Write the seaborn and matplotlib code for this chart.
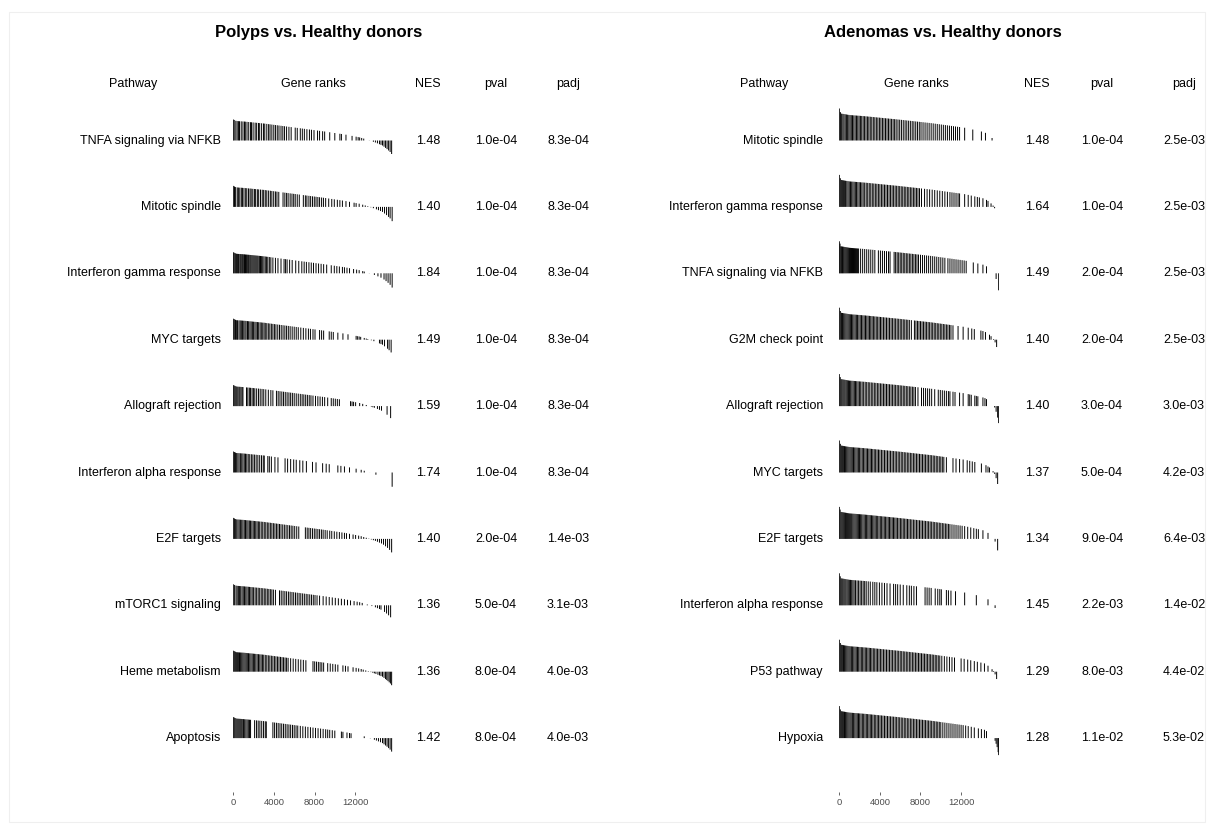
import numpy as np
import matplotlib
matplotlib.use("Agg")
import matplotlib.pyplot as plt
import seaborn as sns

# ---------------------------------------------------------------
# GSEA table: Polyps / Adenomas vs. Healthy donors (hallmark sets)
# ---------------------------------------------------------------

N_GENES = 15750

# ranked statistic curve (rank -> stat)
polyp_curve_rank = [0, 300, 1000, 3000, 6000, 9000, 11000, 12500, 13300, 14000, 14700, 15200, 15500, 15700]
polyp_curve_stat = [21, 19.5, 19, 17, 13, 9, 6, 3, 0.5, -2, -5, -9, -12, -15]

adenoma_curve_rank = [0, 150, 1000, 2500, 5800, 9100, 12400, 14300, 14800, 15100, 15250, 15400, 15550, 15650, 15750]
adenoma_curve_stat = [32, 27, 25.5, 24.3, 21, 17.3, 12.7, 8.3, 5, 2, 0, -4, -9, -14, -20]

# --- Polyps vs. Healthy donors ---
polyp_pathways = ["TNFA signaling via NFKB", "Mitotic spindle", "Interferon gamma response",
                  "MYC targets", "Allograft rejection", "Interferon alpha response",
                  "E2F targets", "mTORC1 signaling", "Heme metabolism", "Apoptosis"]
polyp_nes = [1.48, 1.40, 1.84, 1.49, 1.59, 1.74, 1.40, 1.36, 1.36, 1.42]
polyp_pval = [1.0e-04, 1.0e-04, 1.0e-04, 1.0e-04, 1.0e-04, 1.0e-04, 2.0e-04, 5.0e-04, 8.0e-04, 8.0e-04]
polyp_padj = [8.3e-04, 8.3e-04, 8.3e-04, 8.3e-04, 8.3e-04, 8.3e-04, 1.4e-03, 3.1e-03, 4.0e-03, 4.0e-03]

p_tnfa = [0, 90, 250, 380, 520, 610, 780, 950, 1100, 1180, 1350, 1520, 1700, 1790, 1950, 2150, 2300, 2480, 2600,
          2790, 2980, 3100, 3300, 3480, 3620, 3800, 3990, 4150, 4330, 4500, 4700, 4880, 5050, 5250, 5480, 5700, 6100,
          6300, 6600, 6800, 7000, 7250, 7500, 7700, 7950, 8300, 8500, 8800, 9000, 9500, 10000, 10500, 10650, 11100,
          11700, 12100, 12300, 12450, 12650, 12850, 13400, 13800, 14000, 14200, 14400, 14550, 14700, 14850, 15000,
          15150, 15300, 15450, 15600]
p_mitotic = [0, 120, 230, 390, 500, 640, 790, 900, 1050, 1220, 1330, 1500, 1650, 1760, 1920, 2080, 2200, 2370, 2500,
             2680, 2850, 2990, 3150, 3300, 3480, 3650, 3800, 3980, 4150, 4300, 4480, 4900, 5080, 5250, 5400, 5600,
             5780, 5950, 6100, 6300, 6500, 6900, 7100, 7250, 7450, 7620, 7800, 7980, 8150, 8330, 8500, 8700, 8880,
             9100, 9400, 9700, 9950, 10250, 10500, 10750, 11100, 11450, 11900, 12100, 12400, 12750, 13000, 13250,
             13550, 13800, 14100, 14300, 14500, 14700, 14900, 15100, 15300, 15450, 15650]
p_ifng = [0, 70, 160, 240, 330, 400, 500, 570, 680, 760, 850, 930, 1030, 1100, 1200, 1290, 1380, 1480, 1560, 1660,
          1750, 1850, 1950, 2050, 2150, 2250, 2350, 2450, 2570, 2680, 2790, 2900, 3020, 3150, 3280, 3400, 3550, 3700,
          3900, 4150, 4400, 4700, 5000, 5150, 5300, 5550, 5800, 6150, 6450, 6750, 6980, 7200, 7450, 7680, 7900, 8150,
          8400, 8650, 8900, 9200, 9650, 9950, 10200, 10450, 10750, 10950, 11200, 11450, 11850, 12150, 12400, 12750,
          12900, 13400, 13900, 14250, 14550, 14850, 15050, 15250, 15450, 15650]
p_myc = [0, 100, 220, 330, 420, 560, 680, 790, 900, 1030, 1150, 1260, 1400, 1510, 1640, 1760, 1880, 2000, 2130, 2250,
         2380, 2500, 2640, 2760, 2900, 3030, 3150, 3300, 3450, 3600, 3750, 3900, 4050, 4200, 4380, 4550, 4720, 4900,
         5080, 5250, 5420, 5600, 5800, 6000, 6200, 6400, 6650, 6900, 7150, 7400, 7600, 7850, 8050, 8500, 8700, 8900,
         9450, 9650, 9850, 10300, 10800, 11300, 12100, 12250, 12400, 12550, 12900, 13100, 13250, 13600, 13850, 14400,
         14550, 14700, 14900, 15200, 15350, 15550]
p_allograft = [0, 80, 170, 260, 350, 450, 560, 650, 760, 870, 950, 1300, 1430, 1580, 1700, 1850, 1980, 2120, 2300,
               2480, 2650, 2830, 3000, 3200, 3450, 3700, 3900, 4250, 4420, 4600, 4780, 4950, 5120, 5300, 5480, 5650,
               5820, 6000, 6200, 6400, 6600, 6780, 6950, 7130, 7300, 7480, 7650, 7850, 8100, 8330, 8550, 8780, 9000,
               9300, 9650, 9850, 10050, 10250, 10450, 11550, 11700, 11850, 12050, 12450, 12750, 13100, 13600, 13750,
               13900, 14200, 14400, 14600, 15150, 15500]
p_ifna = [0, 110, 210, 330, 450, 570, 700, 830, 950, 1080, 1200, 1330, 1470, 1620, 1780, 1930, 2080, 2250, 2420, 2600,
          2780, 2950, 3050, 3400, 3550, 3750, 4100, 4400, 5100, 5350, 5650, 5950, 6200, 6550, 6850, 7200, 7800, 8150,
          8800, 9150, 9450, 10300, 10600, 10950, 11450, 12100, 12600, 12900, 13450, 14050, 15650]
p_e2f = [0, 110, 230, 340, 460, 580, 700, 830, 950, 1080, 1200, 1330, 1450, 1580, 1700, 1830, 1960, 2080, 2210, 2340,
         2470, 2600, 2750, 2900, 3050, 3200, 3350, 3500, 3650, 3800, 3950, 4100, 4250, 4400, 4550, 4700, 4870, 5030,
         5200, 5370, 5540, 5700, 5870, 6050, 6250, 6450, 7100, 7280, 7450, 7620, 7800, 7980, 8150, 8330, 8500, 8680,
         8850, 9050, 9250, 9500, 9700, 9950, 10200, 10450, 10700, 10950, 11150, 11450, 11800, 12050, 12350, 12600,
         12850, 13100, 13350, 13600, 13800, 14000, 14200, 14400, 14600, 14800, 15000, 15200, 15400, 15600]
p_mtorc1 = [0, 130, 270, 380, 500, 620, 730, 860, 980, 1100, 1230, 1350, 1480, 1600, 1730, 1860, 2000, 2150, 2300,
            2450, 2600, 2750, 2900, 3050, 3200, 3350, 3500, 3650, 3800, 3950, 4150, 4550, 4720, 4900, 5080, 5250, 5430,
            5600, 5780, 5950, 6130, 6300, 6480, 6650, 6830, 7000, 7180, 7350, 7530, 7700, 7880, 8050, 8250, 8500, 8850,
            9150, 9450, 9750, 10050, 10350, 10650, 10950, 11250, 11550, 11900, 12200, 12450, 12700, 13200, 13650,
            14000, 14200, 14400, 14550, 14900, 15100, 15300, 15500]
p_heme = [0, 100, 200, 300, 400, 500, 610, 720, 830, 940, 1050, 1160, 1270, 1380, 1500, 1620, 1740, 1860, 1980, 2100,
          2220, 2350, 2480, 2610, 2740, 2870, 3000, 3150, 3300, 3450, 3600, 3750, 3900, 4050, 4200, 4350, 4500, 4650,
          4800, 4950, 5100, 5250, 5400, 5650, 5900, 6150, 6400, 6650, 6900, 7150, 7850, 8020, 8200, 8380, 8550, 8720,
          8900, 9300, 9550, 9800, 10050, 10300, 10800, 11050, 11300, 11800, 12100, 12350, 12600, 12800, 13050, 13300,
          13550, 13750, 13900, 14050, 14250, 14400, 14550, 14700, 14850, 15000, 15120, 15240, 15360, 15480, 15600]
p_apoptosis = [0, 90, 180, 280, 380, 480, 580, 680, 780, 880, 1000, 1120, 1240, 1360, 1480, 1600, 1700, 2100, 2280,
               2450, 2620, 2800, 2980, 3150, 3250, 3900, 4070, 4250, 4420, 4600, 4770, 4950, 5120, 5300, 5480, 5650,
               5830, 6000, 6180, 6350, 6600, 6850, 7100, 7350, 7600, 7850, 8100, 8350, 8600, 8850, 9100, 9300, 9500,
               9750, 10000, 10650, 10800, 11200, 11450, 11600, 12900, 13500, 13900, 14100, 14300, 14500, 14700, 14850,
               15000, 15150, 15300, 15450, 15600]
polyp_ranks = [p_tnfa, p_mitotic, p_ifng, p_myc, p_allograft, p_ifna, p_e2f, p_mtorc1, p_heme, p_apoptosis]

# --- Adenomas vs. Healthy donors ---
adenoma_pathways = ["Mitotic spindle", "Interferon gamma response", "TNFA signaling via NFKB",
                    "G2M check point", "Allograft rejection", "MYC targets", "E2F targets",
                    "Interferon alpha response", "P53 pathway", "Hypoxia"]
adenoma_nes = [1.48, 1.64, 1.49, 1.40, 1.40, 1.37, 1.34, 1.45, 1.29, 1.28]
adenoma_pval = [1.0e-04, 1.0e-04, 2.0e-04, 2.0e-04, 3.0e-04, 5.0e-04, 9.0e-04, 2.2e-03, 8.0e-03, 1.1e-02]
adenoma_padj = [2.5e-03, 2.5e-03, 2.5e-03, 2.5e-03, 3.0e-03, 4.2e-03, 6.4e-03, 1.4e-02, 4.4e-02, 5.3e-02]

a_mitotic = [0, 110, 230, 350, 460, 580, 700, 820, 940, 1060, 1180, 1300, 1430, 1560, 1690, 1820, 1950, 2080, 2210,
             2350, 2490, 2630, 2770, 2910, 3050, 3200, 3350, 3500, 3650, 3800, 3950, 4100, 4250, 4400, 4550, 4700,
             4850, 5000, 5150, 5300, 5450, 5600, 5780, 5950, 6120, 6300, 6480, 6650, 6830, 7000, 7180, 7350, 7530,
             7700, 7880, 8050, 8250, 8450, 8650, 8850, 9050, 9250, 9450, 9650, 9850, 10050, 10250, 10450, 10650,
             10850, 11050, 11250, 11450, 11650, 11850, 12350, 13150, 14000, 14400, 15050]
a_ifng = [0, 100, 200, 300, 400, 500, 620, 740, 860, 980, 1100, 1220, 1340, 1460, 1580, 1700, 1830, 1960, 2090, 2220,
          2350, 2500, 2650, 2800, 2950, 3100, 3250, 3400, 3550, 3700, 3850, 4000, 4150, 4300, 4450, 4600, 4750, 4900,
          5050, 5200, 5350, 5500, 5650, 5800, 5950, 6100, 6250, 6400, 6550, 6700, 6850, 7000, 7150, 7300, 7450, 7600,
          7750, 7900, 8100, 8400, 8650, 8900, 9150, 9400, 9650, 9900, 10150, 10400, 10650, 10900, 11100, 11300,
          11500, 11700, 11850, 12350, 12700, 13000, 13350, 13600, 13800, 14150, 14500, 14650, 14950, 15150, 15300]
a_tnfa = [0, 70, 150, 230, 310, 390, 470, 560, 650, 740, 830, 920, 1010, 1100, 1200, 1300, 1400, 1500, 1600, 1700,
          1800, 1900, 2100, 2300, 2500, 2700, 2900, 3100, 3300, 3500, 3850, 4050, 4250, 4450, 4650, 4850, 5000, 5400,
          5550, 5700, 5850, 6000, 6150, 6300, 6450, 6600, 6750, 6900, 7050, 7200, 7350, 7500, 7650, 7800, 8000, 8200,
          8400, 8600, 8800, 9000, 9200, 9400, 9600, 9800, 10000, 10200, 10400, 10700, 10900, 11100, 11300, 11500,
          11700, 11900, 12100, 12300, 12500, 13200, 13650, 14150, 14500, 15250, 15450, 15700]
a_g2m = [0, 100, 210, 320, 430, 540, 650, 760, 870, 980, 1090, 1200, 1320, 1440, 1560, 1680, 1800, 1930, 2060, 2190,
         2320, 2450, 2580, 2710, 2840, 2970, 3100, 3230, 3360, 3500, 3640, 3780, 3920, 4060, 4200, 4350, 4500, 4650,
         4800, 4950, 5100, 5250, 5400, 5550, 5700, 5850, 6000, 6150, 6300, 6450, 6600, 6750, 6900, 7100, 7400, 7550,
         7700, 7850, 8000, 8150, 8300, 8450, 8600, 8750, 8900, 9050, 9200, 9350, 9500, 9650, 9800, 9950, 10100,
         10250, 10400, 10550, 10700, 10850, 11000, 11200, 11700, 12200, 12700, 13050, 13300, 13950, 14150, 14400,
         14800, 14950, 15200, 15350, 15500]
a_allograft = [0, 90, 180, 270, 370, 470, 570, 680, 790, 900, 1010, 1120, 1240, 1360, 1480, 1600, 1720, 1850, 1980,
               2110, 2250, 2400, 2550, 2700, 2850, 3000, 3150, 3300, 3450, 3600, 3750, 3900, 4050, 4200, 4350, 4500,
               4650, 4800, 4950, 5100, 5250, 5400, 5550, 5700, 5850, 6000, 6150, 6300, 6450, 6600, 6750, 6900, 7050,
               7200, 7350, 7500, 7750, 8100, 8300, 8500, 8700, 8900, 9100, 9400, 9750, 9950, 10150, 10350, 10550,
               10750, 10900, 11200, 11400, 11850, 12200, 12700, 12850, 13000, 13350, 13500, 13650, 14150, 14350, 14500,
               15300, 15450, 15600, 15700]
a_myc = [0, 100, 200, 300, 400, 510, 620, 730, 840, 950, 1060, 1170, 1280, 1400, 1520, 1640, 1760, 1880, 2000, 2130,
         2260, 2390, 2520, 2650, 2780, 2910, 3040, 3170, 3300, 3440, 3580, 3720, 3860, 4000, 4150, 4300, 4450, 4600,
         4750, 4900, 5050, 5200, 5350, 5500, 5650, 5800, 5950, 6100, 6250, 6400, 6550, 6700, 6850, 7000, 7150, 7300,
         7450, 7600, 7750, 7900, 8050, 8200, 8350, 8500, 8650, 8800, 8950, 9100, 9250, 9400, 9550, 9700, 9850,
         10000, 10150, 10300, 10550, 11200, 11500, 11850, 12200, 12600, 12850, 13100, 13350, 14000, 14450, 14650,
         14800, 15150, 15300, 15450, 15600]
a_e2f = [0, 80, 170, 260, 350, 440, 530, 620, 720, 820, 920, 1020, 1120, 1220, 1330, 1440, 1550, 1660, 1770, 1880,
         1990, 2100, 2210, 2330, 2450, 2570, 2690, 2810, 2930, 3050, 3170, 3290, 3410, 3530, 3650, 3780, 3910, 4040,
         4170, 4300, 4430, 4560, 4690, 4820, 4950, 5080, 5210, 5340, 5470, 5600, 5740, 5880, 6020, 6160, 6300, 6440,
         6580, 6720, 6860, 7000, 7150, 7300, 7450, 7600, 7750, 7900, 8050, 8200, 8350, 8500, 8650, 8800, 8950, 9100,
         9250, 9400, 9550, 9700, 9850, 10000, 10150, 10300, 10450, 10600, 10750, 10900, 11100, 11300, 11500, 11700,
         11900, 12100, 12350, 12650, 12950, 13250, 13500, 13700, 14150, 14650, 15350, 15600]
a_ifna = [0, 90, 180, 270, 360, 460, 560, 660, 770, 880, 990, 1100, 1220, 1340, 1460, 1600, 1750, 1900, 2050, 2200,
          2350, 2500, 2650, 2850, 3050, 3300, 3500, 3700, 3950, 4200, 4450, 4700, 5000, 5350, 5550, 5750, 6000, 6300,
          6650, 6900, 7100, 7350, 7600, 8450, 8650, 8850, 9050, 9450, 9700, 9900, 10050, 10550, 10750, 11000, 11450,
          12350, 13500, 14650, 15350]
a_p53 = [0, 100, 200, 300, 410, 520, 630, 740, 850, 960, 1070, 1190, 1310, 1430, 1550, 1670, 1790, 1910, 2040, 2170,
         2300, 2430, 2560, 2690, 2820, 2950, 3080, 3210, 3350, 3490, 3630, 3770, 3910, 4050, 4200, 4350, 4500, 4650,
         4800, 4950, 5100, 5250, 5400, 5550, 5700, 5850, 6000, 6150, 6300, 6450, 6600, 6750, 6900, 7050, 7200, 7350,
         7500, 7650, 7800, 7950, 8100, 8250, 8400, 8550, 8700, 8850, 9000, 9150, 9300, 9450, 9600, 9750, 9900,
         10100, 10350, 10600, 10850, 11100, 11350, 12000, 12300, 12650, 12950, 13300, 13600, 13950, 14300, 14650,
         15050, 15200, 15350, 15500]
a_hypoxia = [0, 100, 200, 300, 400, 510, 620, 730, 840, 950, 1060, 1170, 1290, 1410, 1530, 1650, 1770, 1890, 2010,
             2140, 2270, 2400, 2530, 2660, 2790, 2920, 3050, 3180, 3310, 3450, 3590, 3730, 3870, 4010, 4150, 4300,
             4450, 4600, 4750, 4900, 5050, 5200, 5350, 5500, 5650, 5800, 5950, 6100, 6250, 6400, 6550, 6700, 6850,
             7000, 7150, 7300, 7450, 7600, 7750, 7900, 8050, 8200, 8350, 8500, 8650, 8800, 8950, 9100, 9250, 9400,
             9550, 9700, 9850, 10000, 10200, 10400, 10600, 10800, 11000, 11200, 11400, 11600, 11800, 12000, 12200,
             12450, 12700, 13000, 13300, 13700, 14000, 14300, 14500, 15350, 15450, 15550, 15650, 15700]
adenoma_ranks = [a_mitotic, a_ifng, a_tnfa, a_g2m, a_allograft, a_myc, a_e2f, a_ifna, a_p53, a_hypoxia]

gene_ticks = [0, 4000, 8000, 12000]

# ---------------------------------------------------------------
sns.set_theme(style="white")
plt.rcParams['font.family'] = ['Liberation Sans', 'DejaVu Sans']
plt.rcParams['text.color'] = 'black'

W, H = 1214, 830
fig = plt.figure(figsize=(W / 100, H / 100), dpi=100)


def fx(px):
    return px / W


def fy(py):
    return 1 - py / H


# light frame around the whole figure
fig.patches.append(plt.Rectangle((fx(9), fy(822)), fx(1196), (822 - 12) / H, transform=fig.transFigure,
                                 fill=False, edgecolor="#efefef", linewidth=0.8))

panels = [
    dict(title="Polyps vs. Healthy donors", title_x=319, name_x=221, head_path_x=133, head_gene_x=313,
         nes_x=428, pval_x=496, padj_x=568, rank0_x=233.3,
         names=polyp_pathways, nes=polyp_nes, pval=polyp_pval, padj=polyp_padj, ranks=polyp_ranks,
         curve=(polyp_curve_rank, polyp_curve_stat)),
    dict(title="Adenomas vs. Healthy donors", title_x=943, name_x=823, head_path_x=764, head_gene_x=916,
         nes_x=1037, pval_x=1102, padj_x=1184, rank0_x=839.3,
         names=adenoma_pathways, nes=adenoma_nes, pval=adenoma_pval, padj=adenoma_padj, ranks=adenoma_ranks,
         curve=(adenoma_curve_rank, adenoma_curve_stat)),
]

px_per_rank = 10.15 / 1000
row0_y, row_step = 140.5, 66.4
bar_half = 35  # px above / below the baseline of each barcode axes
fs = 9

for p in panels:
    fig.text(fx(p["title_x"]), fy(33), p["title"], ha="center", va="center", fontsize=12, fontweight="bold")
    for label, x in [("Pathway", p["head_path_x"]), ("Gene ranks", p["head_gene_x"]), ("NES", p["nes_x"]),
                     ("pval", p["pval_x"]), ("padj", p["padj_x"])]:
        fig.text(fx(x), fy(84), label, ha="center", va="center", fontsize=fs)

    width = N_GENES * px_per_rank
    curve_rank, curve_stat = p["curve"]
    for i, name in enumerate(p["names"]):
        y = row0_y + i * row_step
        fig.text(fx(p["name_x"]), fy(y), name, ha="right", va="center", fontsize=fs)
        fig.text(fx(p["nes_x"]), fy(y), f"{p['nes'][i]:.2f}", ha="center", va="center", fontsize=fs)
        fig.text(fx(p["pval_x"]), fy(y), f"{p['pval'][i]:.1e}", ha="center", va="center", fontsize=fs)
        fig.text(fx(p["padj_x"]), fy(y), f"{p['padj'][i]:.1e}", ha="center", va="center", fontsize=fs)

        ax = fig.add_axes([fx(p["rank0_x"]), fy(y + bar_half), width / W, 2 * bar_half / H])
        ranks = np.array(p["ranks"][i])
        heights = np.interp(ranks, curve_rank, curve_stat)
        ax.vlines(ranks, 0, heights, color="black", linewidth=0.7, snap=False)
        ax.set_xlim(0, N_GENES)
        ax.set_ylim(-bar_half, bar_half)
        ax.set_axis_off()

    # gene rank axis under the last row
    tax = fig.add_axes([fx(p["rank0_x"]), fy(792), width / W, 1 / H])
    tax.set_xlim(0, N_GENES)
    tax.set_xticks(gene_ticks)
    tax.set_xticklabels([str(t) for t in gene_ticks], fontsize=6.8, color="#4d4d4d")
    tax.set_yticks([])
    tax.tick_params(axis="x", length=2.5, width=0.6, color="#4d4d4d", pad=2, bottom=True)
    tax.patch.set_alpha(0)
    sns.despine(ax=tax, left=True, bottom=True)

fig.savefig("out.png", dpi=100)
